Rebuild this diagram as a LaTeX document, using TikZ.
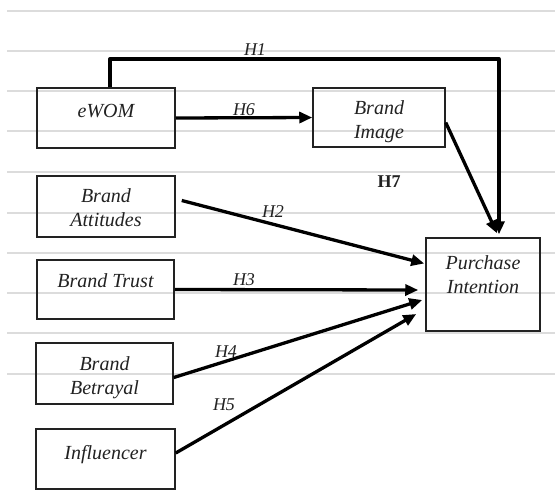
\documentclass[tikz,border=0pt]{standalone}
\usepackage{fontspec}
\setmainfont{Liberation Serif}
\usetikzlibrary{arrows.meta,calc}
\definecolor{rulegray}{HTML}{DCDCDC}
\definecolor{ink}{HTML}{222222}
\tikzset{
  box/.style={draw=ink, line width=1.5pt, rectangle, inner sep=0pt},
  boxtext/.style={font=\fontsize{20}{24}\selectfont\itshape, text=ink, align=center, inner sep=0pt},
  hyp/.style={font=\fontsize{18}{20}\selectfont\itshape, text=ink, inner sep=0pt},
  hypb/.style={font=\fontsize{18}{20}\selectfont\bfseries, text=ink, inner sep=0pt},
  arr/.style={line width=3.3pt, draw=black, line join=round, -{Triangle[length=13pt,width=11pt]}},
  ruleline/.style={draw=rulegray, line width=1.8pt}
}
\begin{document}
\begin{tikzpicture}[x=1pt,y=-1pt]
\fill[white] (0,0) rectangle (555,491);
\useasboundingbox (0,0) rectangle (555,491);
% lined background
\foreach \yy in {11,51,91,131,172,213,253,293,333,374}
  \draw[ruleline] (7,\yy) -- (555,\yy);
% boxes
\node[box, minimum width=138pt, minimum height=60pt] (ewom) at (106,118) {};
\node[box, minimum width=132pt, minimum height=59pt] (bi) at (379,117.5) {};
\node[box, minimum width=138pt, minimum height=61pt] (ba) at (106,206.5) {};
\node[box, minimum width=137pt, minimum height=59pt] (bt) at (105.5,289.5) {};
\node[box, minimum width=114pt, minimum height=93pt] (pi) at (483,284.5) {};
\node[box, minimum width=137pt, minimum height=61pt] (bb) at (104.5,373.5) {};
\node[box, minimum width=139pt, minimum height=60pt] (inf) at (105.5,459) {};
% box texts
\node[boxtext] (ewomt) at ([yshift=7pt]ewom.center) {eWOM};
\node[boxtext] (bit) at ([yshift=-4.5pt]bi.center) {Brand\\Image};
\node[boxtext] (bat) at ([yshift=-1pt]ba.center) {Brand\\Attitudes};
\node[boxtext] (btt) at ([yshift=9pt]bt.center) {Brand Trust};
\node[boxtext] (pit) at ([yshift=9.5pt]pi.center) {Purchase\\Intention};
\node[boxtext] (bbt) at ([yshift=-4.5pt]bb.center) {Brand\\Betrayal};
\node[boxtext] (inft) at ([yshift=4pt]inf.center) {Influencer};
% connectors
\coordinate (h1corner) at (499,59);
\draw[arr] ([xshift=4pt]ewom.north) |- (h1corner) -- ([xshift=16pt,yshift=3pt]pi.north);
\draw[arr] (ewom.east) -- (bi.west);
\draw[arr] ([yshift=-5pt]bi.east) -- ([xshift=14pt,yshift=4pt]pi.north);
\draw[arr] ([xshift=6pt,yshift=6pt]ba.east) -- ([xshift=-1pt,yshift=21pt]pi.west);
\draw[arr] (bt.east) -- ([xshift=-7pt,yshift=-5.5pt]pi.west);
\draw[arr] ([yshift=-4pt]bb.east) -- ([xshift=-3pt,yshift=-15.5pt]pi.west);
\draw[arr] ([yshift=6pt]inf.east) -- ([xshift=-9pt,yshift=-29.5pt]pi.west);
% hypothesis labels
\node[hyp] (lh1) at (255,50) {H1};
\node[hyp] (lh6) at (244,110) {H6};
\node[hyp] (lh2) at (273,212) {H2};
\node[hyp] (lh3) at (244,280) {H3};
\node[hyp] (lh4) at (226,352) {H4};
\node[hyp] (lh5) at (224,405) {H5};
\node[hypb] (lh7) at (389,182) {H7};
\end{tikzpicture}
\end{document}
